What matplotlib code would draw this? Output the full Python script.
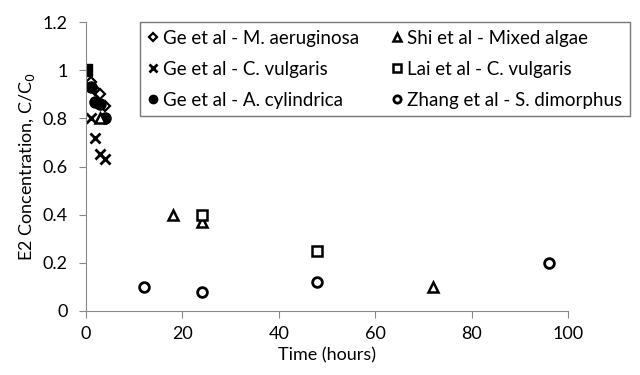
import matplotlib
matplotlib.use('Agg')
import matplotlib.pyplot as plt

plt.rcParams['font.family'] = ['Lato', 'DejaVu Sans']

# data
ma_t = [1, 2, 3, 4]
ma_c = [0.95, 0.92, 0.90, 0.85]
cv_t = [1, 2, 3, 4]
cv_c = [0.80, 0.72, 0.65, 0.63]
ac_t = [1, 2, 3, 4]
ac_c = [0.93, 0.87, 0.86, 0.80]
shi_t = [3, 18, 24, 72]
shi_c = [0.80, 0.40, 0.37, 0.10]
lai_t = [0, 24, 48]
lai_c = [1.0, 0.40, 0.25]
zh_t = [12, 24, 48, 96]
zh_c = [0.10, 0.08, 0.12, 0.20]

fig = plt.figure(figsize=(6.4, 3.75), dpi=100)
ax = fig.add_axes([0.134, 0.171, 0.754, 0.770])

ax.plot(ma_t, ma_c, 'D', ms=5, mfc='white', mec='black', mew=1.6, ls='none', label='Ge et al - M. aeruginosa')
ax.plot(cv_t, cv_c, 'x', ms=7, mec='black', mew=2, ls='none', label='Ge et al - C. vulgaris')
ax.plot(ac_t, ac_c, 'o', ms=8, mfc='black', mec='black', ls='none', label='Ge et al - A. cylindrica')
ax.plot(shi_t, shi_c, '^', ms=7, mfc='white', mec='black', mew=1.8, ls='none', label='Shi et al - Mixed algae')
ax.plot(lai_t, lai_c, 's', ms=7, mfc='white', mec='black', mew=1.8, ls='none', label='Lai et al - C. vulgaris')
ax.plot(zh_t, zh_c, 'o', ms=7, mfc='white', mec='black', mew=2, ls='none', label='Zhang et al - S. dimorphus')
# the t=0 square looks filled in the reference
ax.plot(lai_t[:1], lai_c[:1], 's', ms=8, mfc='black', mec='black', ls='none')

ax.set_xlim(0, 100)
ax.set_ylim(0, 1.2)
ax.set_xticks([0, 20, 40, 60, 80, 100])
ax.set_yticks([0, 0.2, 0.4, 0.6, 0.8, 1.0, 1.2])
ax.set_yticklabels(['0', '0.2', '0.4', '0.6', '0.8', '1', '1.2'])
for s in ['top', 'right']:
    ax.spines[s].set_visible(False)
for s in ['left', 'bottom']:
    ax.spines[s].set_color('#888888')
ax.tick_params(axis='both', direction='out', color='#888888', length=5, labelsize=13)
ax.tick_params(axis='y', pad=8)
ax.tick_params(axis='x', pad=6)

ax.set_xlabel('Time (hours)', fontsize=13)
ax.set_ylabel('E2 Concentration, C/C$_0$', fontsize=13, labelpad=4)

leg = ax.legend(ncol=2, loc='upper left', bbox_to_anchor=(0.112, 1.0), borderaxespad=0,
                fontsize=13.5, frameon=True, fancybox=False, edgecolor='#555555',
                handletextpad=0.25, columnspacing=1.7, labelspacing=0.75, borderpad=0.4,
                markerscale=0.75, handlelength=0.6)
leg.get_frame().set_linewidth(1.0)

fig.savefig('out.png', dpi=100)
